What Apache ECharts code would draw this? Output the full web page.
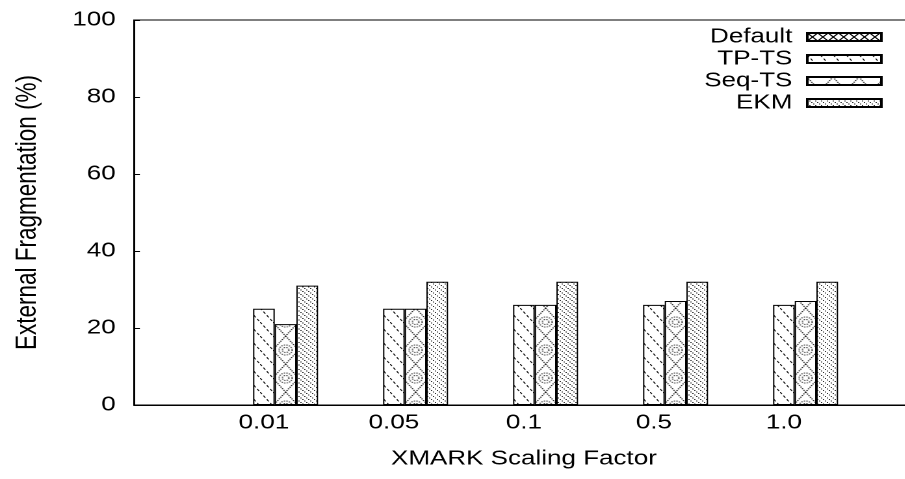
<!DOCTYPE html>
<html>
<head>
<meta charset="utf-8">
<script src="https://cdn.jsdelivr.net/npm/echarts@6/dist/echarts.min.js"></script>
<style>
  html, body { margin: 0; padding: 0; background: #fff; overflow: hidden; width: 905px; height: 479px; }
  /* the original figure is stretched sideways, so the chart is drawn narrow and widened */
  #chart { width: 720px; height: 479px; transform: scaleX(1.3); transform-origin: 0 0; }
</style>
</head>
<body>
<div id="chart"></div>
<script>
const categories = ['0.01', '0.05', '0.1', '0.5', '1.0']
const seriesNames = ['Default', 'TP-TS', 'Seq-TS', 'EKM']
const defaultVals = [0, 0, 0, 0, 0]
const tptsVals = [25, 25, 26, 26, 26]
const seqtsVals = [21, 25, 26, 27, 27]
const ekmVals = [31, 32, 32, 32, 32]
const yTicks = [0, 20, 40, 60, 80, 100]

const FONT = 'Liberation Sans, Arial, sans-serif'

// tiles drawn at 2x and scaled back down so they stay sharp
function makeTile(w, h, draw) {
  const c = document.createElement('canvas')
  c.width = Math.round(w * 2)
  c.height = Math.round(h * 2)
  const ctx = c.getContext('2d')
  ctx.scale(2, 2)
  ctx.fillStyle = '#fff'
  ctx.fillRect(0, 0, w, h)
  draw(ctx, w, h)
  return c
}
function pattern(tile, x) {
  return { image: tile, repeat: 'repeat', scaleX: 0.5, scaleY: 0.5, x: x || 0 }
}

const crossTile = makeTile(8, 8, (ctx, w, h) => {
  ctx.strokeStyle = '#000'
  ctx.lineWidth = 1
  ctx.beginPath()
  ctx.moveTo(0, 0); ctx.lineTo(w, h)
  ctx.moveTo(w, 0); ctx.lineTo(0, h)
  ctx.stroke()
})

const slashTile = makeTile(10, 14, (ctx, w, h) => {
  ctx.strokeStyle = '#111'
  ctx.lineWidth = 0.9
  ctx.setLineDash([2.5, 2])
  ctx.beginPath()
  ctx.moveTo(0, 0); ctx.lineTo(w, h)
  ctx.stroke()
})

const ringTile = makeTile(20, 28, (ctx, w, h) => {
  ctx.strokeStyle = '#000'
  ctx.lineWidth = 1
  ctx.setLineDash([1, 1])
  ctx.beginPath()
  ctx.moveTo(w / 2, 0); ctx.lineTo(w, h / 2); ctx.lineTo(w / 2, h)
  ctx.lineTo(0, h / 2); ctx.lineTo(w / 2, 0)
  ctx.stroke()
  ctx.strokeStyle = '#333'
  ctx.beginPath()
  ctx.arc(w / 2, h / 2, 5, 0, Math.PI * 2)
  ctx.stroke()
  ctx.beginPath()
  ctx.arc(w / 2, h / 2, 2.5, 0, Math.PI * 2)
  ctx.stroke()
  ctx.setLineDash([])
})

const dotTile = makeTile(4.5, 4.5, (ctx) => {
  ctx.fillStyle = '#333'
  ctx.fillRect(0, 0, 1, 1)
  ctx.fillRect(1.5, 1.5, 1, 1)
  ctx.fillRect(3, 3, 1, 1)
})

const fills = [pattern(crossTile), pattern(slashTile), pattern(ringTile, 9.7), pattern(dotTile)]
const values = [defaultVals, tptsVals, seqtsVals, ekmVals]

const chart = echarts.init(document.getElementById('chart'), null, { devicePixelRatio: 2 })

const legendText = { fontSize: 20, fontFamily: FONT, color: '#000', lineHeight: 20 }

const option = {
  animation: false,
  backgroundColor: '#fff',
  textStyle: { fontFamily: FONT },
  grid: {
    left: 103, right: 17, top: 20, bottom: 74,
    show: true, borderColor: '#000', borderWidth: 1, backgroundColor: 'transparent'
  },
  // swatches and names are two legends so the gap between them can be set
  legend: [
    {
      data: seriesNames,
      orient: 'vertical',
      right: 41,
      top: 27,
      align: 'right',
      icon: 'rect',
      itemWidth: 57,
      itemHeight: 8,
      itemGap: 2,
      padding: 0,
      formatter: () => ' ',
      textStyle: legendText
    },
    {
      data: seriesNames,
      orient: 'vertical',
      right: 105.5,
      top: 27,
      align: 'right',
      icon: 'rect',
      itemWidth: 0,
      itemHeight: 8,
      itemGap: 2,
      padding: 0,
      itemStyle: { color: 'transparent', borderWidth: 0, opacity: 0 },
      textStyle: legendText
    }
  ],
  xAxis: [
    {
      type: 'value',
      min: 0,
      max: categories.length + 1,
      interval: 1,
      axisLine: { show: true, lineStyle: { color: '#000', width: 1 } },
      axisTick: { show: false },
      splitLine: { show: false },
      axisLabel: {
        formatter: v => categories[v - 1] || '',
        fontSize: 20, fontFamily: FONT, color: '#000', margin: 8
      },
      name: 'XMARK Scaling Factor',
      nameLocation: 'middle',
      nameGap: 44,
      nameTextStyle: { fontSize: 20, fontFamily: FONT, color: '#000' }
    },
    {
      // bars sit a twelfth of a slot right of the label ticks
      type: 'value',
      min: -1 / 12,
      max: categories.length + 1 - 1 / 12,
      show: false
    }
  ],
  yAxis: {
    type: 'value',
    min: yTicks[0],
    max: yTicks[yTicks.length - 1],
    interval: yTicks[1] - yTicks[0],
    axisLine: { show: true, lineStyle: { color: '#000', width: 1 } },
    axisTick: { show: true, inside: true, length: 4.6, lineStyle: { color: '#000' } },
    splitLine: { show: false },
    axisLabel: { fontSize: 20, fontFamily: FONT, color: '#000', margin: 14 },
    name: 'External Fragmentation (%)',
    nameLocation: 'middle',
    nameGap: 70,
    nameTextStyle: { fontSize: 22.5, fontFamily: FONT, color: '#000' }
  },
  series: seriesNames.map((name, k) => ({
    name: name,
    type: 'bar',
    xAxisIndex: 1,
    barWidth: 100 / 6,
    barGap: '0%',
    data: values[k].map((v, i) => [i + 1, v]),
    itemStyle: { color: fills[k], borderColor: '#000', borderWidth: 1 },
    emphasis: { disabled: true }
  }))
}

chart.setOption(option)
</script>
</body>
</html>
